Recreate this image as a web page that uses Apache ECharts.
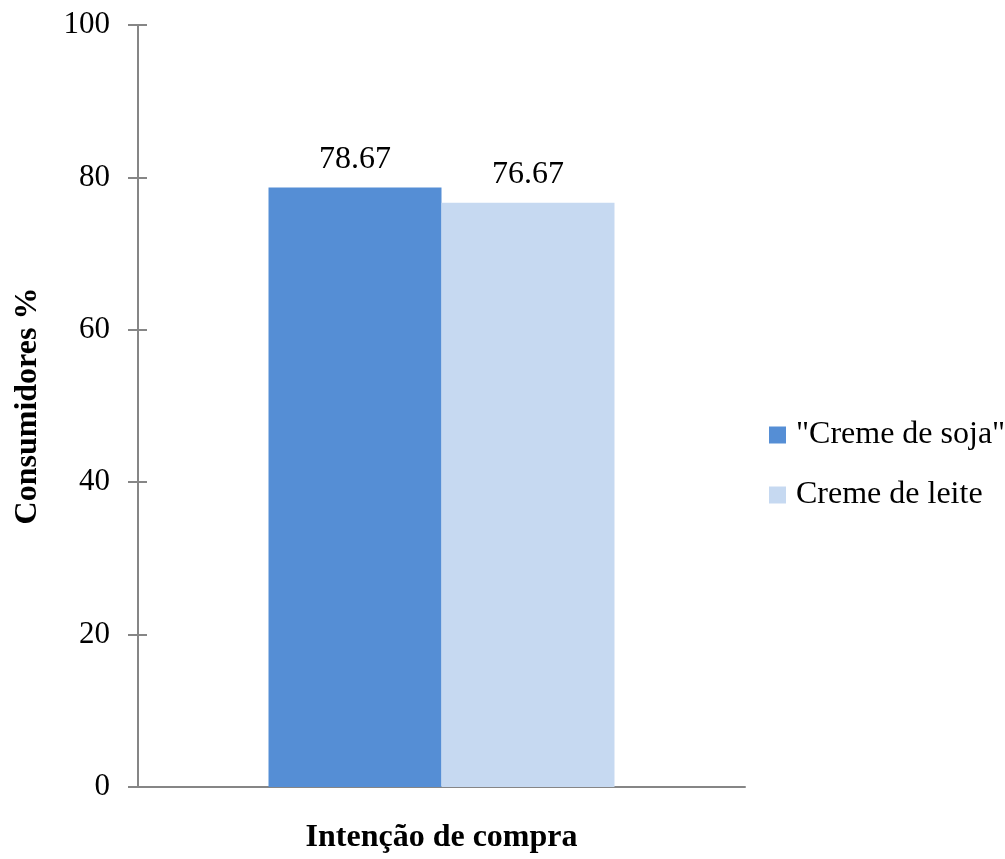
<!DOCTYPE html>
<html>
<head>
<meta charset="utf-8">
<script src="https://cdn.jsdelivr.net/npm/echarts@6/dist/echarts.min.js"></script>
<style>
  html, body { margin: 0; padding: 0; background: #fff; }
  #chart { width: 1005px; height: 859px; }
</style>
</head>
<body>
<div id="chart"></div>
<script>
const categories = ['Intenção de compra']
const seriesNames = ['"Creme de soja"', 'Creme de leite']
const sojaValues = [78.67]
const leiteValues = [76.67]
const colors = ['#558ED5', '#C6D9F1']

const font = '"Liberation Serif", "Times New Roman", serif'
const axisGray = '#868686'

const chart = echarts.init(document.getElementById('chart'))

const yBase = {
  type: 'value',
  min: 0,
  max: 100,
  interval: 20,
  position: 'left',
  splitLine: { show: false }
}

const barLabel = { show: true, position: 'top', distance: 12, fontFamily: font, fontSize: 32, color: '#000', formatter: p => p.value.toFixed(2) }

chart.setOption({
  animation: false,
  textStyle: { fontFamily: font },
  grid: { left: 138, right: 260, top: 25, bottom: 70 },
  legend: {
    orient: 'vertical',
    left: 769,
    top: 419,
    padding: 0,
    itemWidth: 17,
    itemHeight: 17,
    itemGap: 28,
    icon: 'rect',
    textStyle: { fontFamily: font, fontSize: 32, color: '#000', padding: [0, 0, 0, 5] },
    data: seriesNames
  },
  xAxis: {
    type: 'category',
    data: categories,
    name: categories[0],
    nameLocation: 'middle',
    nameGap: 35,
    nameTextStyle: { fontFamily: font, fontSize: 32, fontWeight: 'bold', color: '#000' },
    axisLine: { lineStyle: { color: axisGray, width: 2 } },
    axisTick: { show: false },
    axisLabel: { show: false }
  },
  yAxis: [
    Object.assign({}, yBase, {
      name: 'Consumidores %',
      nameLocation: 'middle',
      nameGap: 94,
      nameTextStyle: { fontFamily: font, fontSize: 32, fontWeight: 'bold', color: '#000' },
      axisLine: { show: true, lineStyle: { color: axisGray, width: 2 } },
      axisTick: { show: true, length: 10, lineStyle: { color: axisGray, width: 2 } },
      axisLabel: { margin: 28, fontFamily: font, fontSize: 31, color: '#000' }
    }),
    Object.assign({}, yBase, {
      axisLine: { show: false },
      axisTick: { show: true, inside: true, length: 9, lineStyle: { color: axisGray, width: 2 } },
      axisLabel: { show: false }
    })
  ],
  series: [
    {
      name: seriesNames[0],
      type: 'bar',
      data: sojaValues,
      barGap: '0%',
      barCategoryGap: '43%',
      itemStyle: { color: colors[0] },
      label: barLabel
    },
    {
      name: seriesNames[1],
      type: 'bar',
      data: leiteValues,
      itemStyle: { color: colors[1] },
      label: barLabel
    }
  ]
})
</script>
</body>
</html>
